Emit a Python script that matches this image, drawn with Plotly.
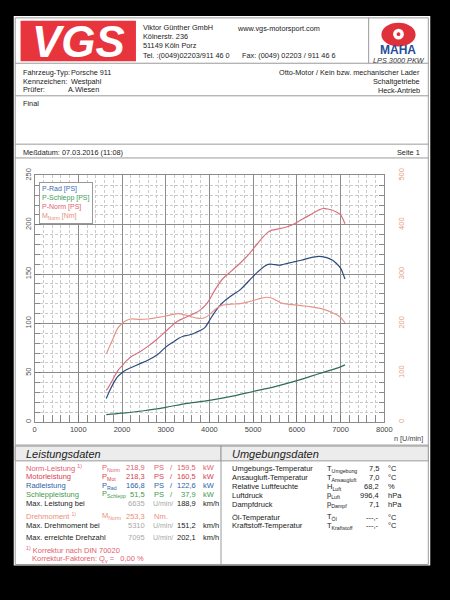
import plotly.graph_objects as go

# ---------------- data ----------------
rpm = [1640, 1700, 1800, 1900, 2000, 2100, 2200, 2400, 2600, 2800, 3000, 3200, 3300, 3400,
       3500, 3600, 3700, 3800, 3900, 4000, 4100, 4200, 4300, 4500, 4700, 4900, 5100, 5300,
       5400, 5500, 5600, 5700, 5900, 6100, 6300, 6500, 6600, 6700, 6800, 6900, 7000, 7050, 7100]
p_rad = [24, 30, 39, 46, 50, 53, 55, 59, 63, 68, 76, 82, 85, 87,
         88, 89, 91, 93, 96, 103, 110, 116, 121, 128, 134, 143, 152, 159,
         160, 159.5, 159, 160, 162, 164, 166.5, 168, 167.5, 166.5, 164.5, 161, 156, 151, 145]
p_norm = [32, 36, 44, 52, 57, 62, 66, 71, 77, 84, 92, 100, 103, 105,
          107, 109, 111, 114, 118, 124, 132, 139, 145, 153, 161, 170, 181, 191,
          194, 195, 196, 197, 200, 205, 210, 215, 216.5, 216, 215, 213, 210, 206, 201]
m_norm = [138, 150, 170, 190, 200, 206, 209, 208, 209, 212, 215, 219, 220, 218,
          216, 213, 211, 210, 212, 218, 226, 233, 237, 239, 240, 244, 249, 253,
          252, 248, 243, 240, 238, 236, 234, 231, 229, 226, 222, 218, 212, 207, 201]
rpm_schlepp = [1640, 2000, 2500, 3000, 3500, 4000, 4500, 5000, 5500, 6000, 6500, 7000, 7100]
p_schlepp = [7.5, 9, 11.5, 15, 19, 22, 26, 31, 36, 42, 49, 56, 58]

x_ticks = [0, 1000, 2000, 3000, 4000, 5000, 6000, 7000, 8000]

leistung_rows = [
    ("Norm-Leistung <sup>1)</sup>", "P<sub>Norm</sub>", "218,9", "PS", "159,5", "kW", "#e2606e"),
    ("Motorleistung", "P<sub>Mot</sub>", "218,3", "PS", "160,5", "kW", "#d94050"),
    ("Radleistung", "P<sub>Rad</sub>", "166,8", "PS", "122,6", "kW", "#2f5fa8"),
    ("Schleppleistung", "P<sub>Schlepp</sub>", "51,5", "PS", "37,9", "kW", "#3f9a4c"),
]
umgebung_rows = [
    ("Umgebungs-Temperatur", "T<sub>Umgebung</sub>", "7,5", "°C"),
    ("Ansaugluft-Temperatur", "T<sub>Ansaugluft</sub>", "7,0", "°C"),
    ("Relative Luftfeuchte", "H<sub>Luft</sub>", "68,2", "%"),
    ("Luftdruck", "p<sub>Luft</sub>", "996,4", "hPa"),
    ("Dampfdruck", "p<sub>Dampf</sub>", "7,1", "hPa"),
    ("Öl-Temperatur", "T<sub>Öl</sub>", "---,-", "°C"),
    ("Kraftstoff-Temperatur", "T<sub>Kraftstoff</sub>", "---,-", "°C"),
]

# ---------------- helpers ----------------
W, H = 450, 600
FONT = "Liberation Sans, Arial, sans-serif"
HS = 7.3   # header / info text size
TS = 7.5   # table text size
def px(x): return x / W
def py(y): return 1 - y / H

anns = []
def T(x, y, text, size=TS, color="#222", xa="left", ya="middle", **kw):
    anns.append(dict(x=px(x), y=py(y), xref="paper", yref="paper", text=text, showarrow=False,
                     xanchor=xa, yanchor=ya, font=dict(family=kw.pop("family", FONT), size=size, color=color), **kw))

shapes = []
def R(x0, y0, x1, y1, fill=None, line="#9a9a9a", lw=1, layer="below", kind="rect"):
    shapes.append(dict(type=kind, xref="paper", yref="paper", x0=px(x0), x1=px(x1), y0=py(y0), y1=py(y1),
                       fillcolor=fill, line=dict(color=line, width=lw), layer=layer))
def L(x0, y0, x1, y1, color="#9a9a9a", lw=1):
    shapes.append(dict(type="line", xref="paper", yref="paper", x0=px(x0), x1=px(x1), y0=py(y0), y1=py(y1),
                       line=dict(color=color, width=lw), layer="below"))

# page
R(12, 9, 438, 566, fill="white", line="white", lw=0)
R(13.5, 11, 436, 565, fill=None)
for yy in [57, 90, 139, 153, 444]:
    L(13.5, yy, 436, yy)
L(375, 11, 375, 57)
L(224, 444, 224, 565)

# header: VGS logo
R(19, 14, 137, 55, fill="#e8343c", line="#e8343c", lw=0)
T(78, 35, "<b><i>VGS</i></b>", size=44, color="white", xa="center", family="Liberation Sans, Arial Black, sans-serif")
T(142, 21, "Viktor Günther GmbH", size=HS)
T(142, 30, "Kölnerstr. 236", size=HS)
T(142, 39, "51149 Köln Porz", size=HS)
T(142, 49, "Tel. :(0049)02203/911 46 0", size=HS)
T(238, 22, "www.vgs-motorsport.com", size=HS)
T(243, 49, "Fax: (0049) 02203 / 911 46 6", size=HS)
# MAHA logo
R(388, 16, 423, 40, fill="#e0303a", line="#e0303a", lw=0, kind="circle")
R(400, 22, 411, 33, fill="white", line="white", lw=0, kind="circle")
R(403.5, 25.5, 407.5, 29.5, fill="#e0303a", line="#e0303a", lw=0, kind="circle")
T(405.5, 43.5, "<b>MAHA</b>", size=12, color="#1f4f9a", xa="center")
T(406, 54, "<i>LPS 3000 PKW</i>", size=7.3, color="#333", xa="center")

# vehicle info
T(19, 66, "Fahrzeug-Typ:", size=HS)
T(69, 66, "Porsche 911", size=HS)
T(19, 75, "Kennzeichen:", size=HS)
T(69, 75, "Westpahl", size=HS)
T(19, 84, "Prüfer:", size=HS)
T(65, 84, "A.Wiesen", size=HS)
T(430, 66, "Otto-Motor / Kein bzw. mechanischer Lader", size=HS, xa="right")
T(430, 76, "Schaltgetriebe", size=HS, xa="right")
T(430, 85, "Heck-Antrieb", size=HS, xa="right")
T(19, 98, "Final", size=HS)
T(19, 147, "Meßdatum: 07.03.2016 (11:08)", size=HS)
T(430, 147, "Seite 1", size=HS, xa="right")

# chart legend (text box)
T(38, 177, '<span style="color:#3a6db5">P-Rad [PS]</span><br>'
           '<span style="color:#3f9a5a">P-Schlepp [PS]</span><br>'
           '<span style="color:#e0606e">P-Norm [PS]</span><br>'
           '<span style="color:#e8907a">M<sub>Norm</sub> [Nm]</span>',
  size=7, ya="top", align="left", bordercolor="#999", borderwidth=1, borderpad=2, bgcolor="white")
T(416, 437, "n [U/min]", size=7.3, color="#444", xa="center")

# Leistungsdaten
R(13.5, 445, 224, 460, fill="#ececec", line="#9a9a9a")
R(224, 445, 436, 460, fill="#ececec", line="#9a9a9a")
T(23, 453, "<i>Leistungsdaten</i>", size=11, color="#222")
T(233, 453, "<i>Umgebungsdaten</i>", size=11, color="#222")
y0 = 467
for i, (lab, sym, v1, u1, v2, u2, col) in enumerate(leistung_rows):
    yy = y0 + i * 9
    T(23, yy, lab, color=col)
    T(100, yy, sym, color=col)
    T(148, yy, v1, color=col, xa="right")
    T(153, yy, u1, color=col)
    T(173, yy, "/", color=col, xa="center")
    T(200, yy, v2, color=col, xa="right")
    T(204, yy, u2, color=col)
GRAY = "#a8a8a8"
for (yy, lab, rv, kmh) in [(503, "Max. Leistung bei", "6635", "188,9"),
                           (525, "Max. Drehmoment bei", "5310", "151,2"),
                           (538, "Max. erreichte Drehzahl", "7095", "202,1")]:
    T(23, yy, lab)
    T(148, yy, rv, color=GRAY, xa="right")
    T(152, yy, "U/min/", color=GRAY, size=7)
    T(200, yy, kmh, xa="right")
    T(204, yy, "km/h")
T(23, 516, "Drehmoment <sup>1)</sup>", color="#e8907a")
T(100, 516, "M<sub>Norm</sub>", color="#e8907a")
T(148, 516, "253,3", color="#e8907a", xa="right")
T(153, 516, "Nm.", color="#e8907a")
T(23, 550, "<sup>1)</sup> Korrektur nach DIN 70020", color="#e2606e")
T(29, 559, "Korrektur-Faktoren: Q<sub>v</sub> =   0,00 %", color="#e2606e")

# Umgebungsdaten
for i, (lab, sym, val, unit) in enumerate(umgebung_rows):
    yy = 468 + i * 9 + (4 if i >= 5 else 0)
    T(233, yy, lab)
    T(330, yy, sym)
    T(388, yy, val, xa="right")
    T(393, yy, unit)

# ---------------- chart ----------------
fig = go.Figure()
fig.add_trace(go.Scatter(x=rpm, y=p_rad, mode="lines", name="P-Rad [PS]",
                         line=dict(color="#2c4a7e", width=1.2, shape="spline")))
fig.add_trace(go.Scatter(x=rpm_schlepp, y=p_schlepp, mode="lines", name="P-Schlepp [PS]",
                         line=dict(color="#2f6e52", width=1.2, shape="spline")))
fig.add_trace(go.Scatter(x=rpm, y=p_norm, mode="lines", name="P-Norm [PS]",
                         line=dict(color="#d9707e", width=1.2, shape="spline")))
fig.add_trace(go.Scatter(x=rpm, y=m_norm, mode="lines", name="M_Norm [Nm]", yaxis="y2",
                         line=dict(color="#e6958a", width=1.2, shape="spline")))

grid_major = "#8c8c8c"
grid_minor = "#cacaca"
fig.update_layout(
    width=W, height=H, margin=dict(l=0, r=0, t=0, b=0),
    paper_bgcolor="black", plot_bgcolor="white", showlegend=False,
    font=dict(family=FONT),
    xaxis=dict(domain=[px(33.3), px(391)], range=[0, 8000], tickvals=x_ticks,
               ticktext=[str(v) for v in x_ticks], showgrid=True, gridcolor=grid_major, gridwidth=1,
               ticks="inside", ticklen=7, tickcolor="#777", zeroline=False,
               showline=True, linecolor=grid_major, mirror=True,
               tickfont=dict(size=7.5, color="#444"),
               minor=dict(dtick=200, showgrid=True, gridcolor=grid_minor, griddash="3px,2px",
                          ticks="inside", ticklen=7, tickcolor="#888")),
    yaxis=dict(domain=[py(420.7), py(170.7)], range=[0, 250], dtick=50, showgrid=True,
               gridcolor=grid_major, ticks="inside", ticklen=6, tickcolor="#777", zeroline=False,
               showline=True, linecolor=grid_major, tickangle=-90,
               tickfont=dict(size=7.5, color="#555"),
               minor=dict(dtick=10, showgrid=True, gridcolor=grid_minor, griddash="3px,2px",
                          ticks="inside", ticklen=5, tickcolor="#888")),
    yaxis2=dict(overlaying="y", side="right", range=[0, 500], dtick=100, showgrid=False,
                ticks="inside", ticklen=5, tickcolor="#888", zeroline=False, tickangle=-90,
                showline=True, linecolor=grid_major, ticklabelstandoff=10,
                tickfont=dict(size=7.5, color="#e8a080"),
                minor=dict(dtick=20, ticks="inside", ticklen=5, tickcolor="#888")),
    shapes=shapes, annotations=anns,
)
fig.write_html("out.html", config={"displayModeBar": False},
               post_script="document.body.style.margin='0px';document.body.style.background='black';")
